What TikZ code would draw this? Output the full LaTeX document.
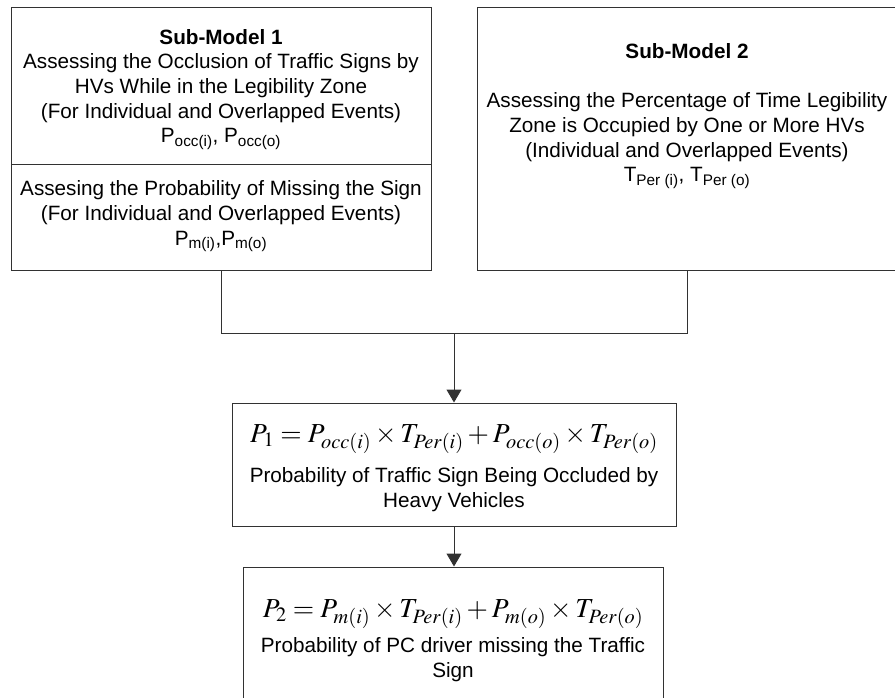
\documentclass[tikz,border=0pt]{standalone}
\usepackage{mathptmx}
\usepackage[no-math]{fontspec}
\setmainfont{Liberation Sans}
\usetikzlibrary{arrows.meta, positioning}
\definecolor{linegray}{RGB}{50,50,50}
\newcommand{\bodysize}{\fontsize{20.7}{24.75}\selectfont}
\newcommand{\eqsize}{\fontsize{27.5}{30}\selectfont}

\begin{document}
\begin{tikzpicture}[x=1pt, y=-1pt,
    box/.style={draw=linegray, line width=1pt, inner sep=0pt},
    txt/.style={align=center, inner sep=0pt, font=\bodysize},
    link/.style={draw=linegray, line width=1pt},
    arr/.style={link, -{Triangle[width=15pt,length=13pt]}}]
            \useasboundingbox (0,0) rectangle (895,698);
            % sub-models
            \node[box, minimum width=420, minimum height=157] (sm1) at (221,86.5) {};
            \node[box, minimum width=420, minimum height=105] (sm1b) at (221,217.5) {};
            \node[box, minimum width=420, minimum height=262] (sm2) at (687,139) {};
            \node[txt, anchor=base] (sm1t) at (221,143) {\textbf{Sub-Model 1}\\Assessing the Occlusion of Traffic Signs by\\HVs While in the Legibility Zone\\(For Individual and Overlapped Events)\\P\textsubscript{occ(i)}, P\textsubscript{occ(o)}};
            \node[txt, anchor=base] (sm1bt) at (221,245) {Assesing the Probability of Missing the Sign\\(For Individual and Overlapped Events)\\P\textsubscript{m(i)},P\textsubscript{m(o)}};
            \node[txt, anchor=base] (sm2t) at (687,182) {\textbf{Sub-Model 2}\\[24.75pt]Assessing the Percentage of Time Legibility\\Zone is Occupied by One or More HVs\\(Individual and Overlapped Events)\\T\textsubscript{Per (i)}, T\textsubscript{Per (o)}};
            % results
            \node[box, minimum width=444, minimum height=123] (p1) at (454,464.5) {};
            \node[box, minimum width=420, minimum height=140] (p2) at (453,637) {};
            \node[txt, anchor=base] (p1t) at (454,507) {{\eqsize$P_1 = P_{occ(i)}\times T_{Per(i)} + P_{occ(o)}\times T_{Per(o)}$}\\[13pt]Probability of Traffic Sign Being Occluded by\\Heavy Vehicles};
            \node[txt, anchor=base] (p2t) at (453,677) {{\eqsize$P_2 = P_{m(i)}\times T_{Per(i)} + P_{m(o)}\times T_{Per(o)}$}\\[8pt]Probability of PC driver missing the Traffic\\Sign};
            \coordinate (join) at (454,333);
            \draw[link] (sm1b.south) |- (join);
            \draw[link] (sm2.south) |- (join);
            \draw[arr] (join) -- (p1.north);
            \draw[arr] (p1.south) -- (p1.south |- p2.north);
        \end{tikzpicture}
\end{document}
